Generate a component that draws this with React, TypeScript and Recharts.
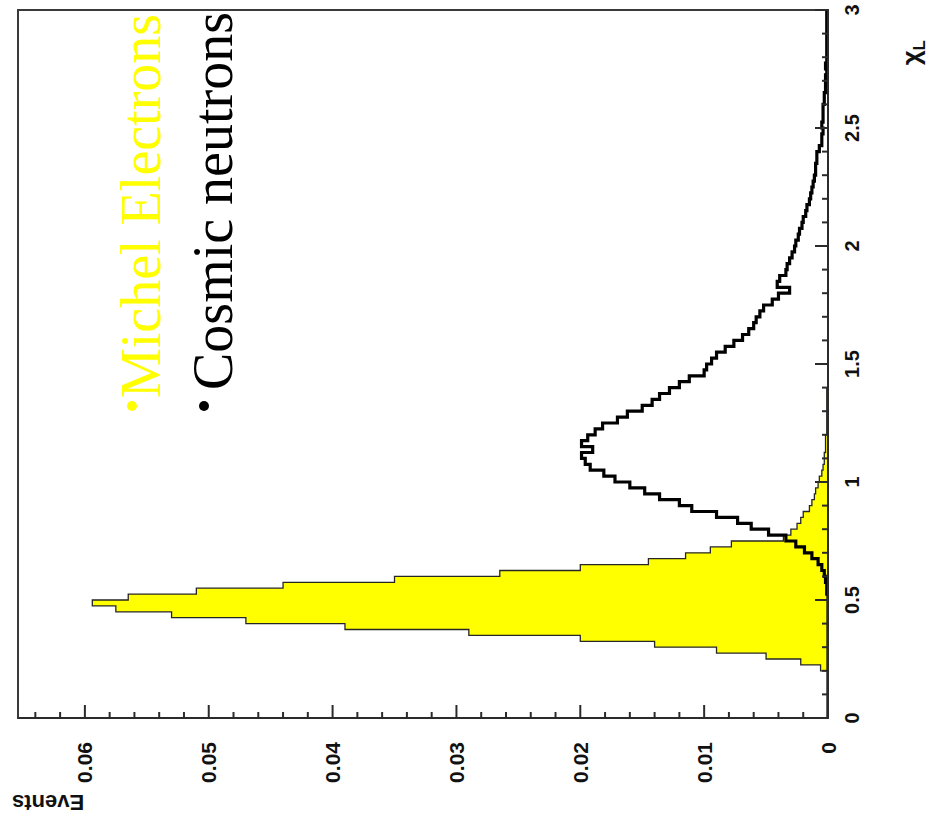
import { ComposedChart, Area, Line, XAxis, YAxis, Legend, Customized } from "recharts";

// histogram bin edges in chi_L (0.025 wide bins, last entry closes the last bin)
const chiEdges = [
  0, 0.025, 0.05, 0.075, 0.1, 0.125, 0.15, 0.175, 0.2, 0.225,
  0.25, 0.275, 0.3, 0.325, 0.35, 0.375, 0.4, 0.425, 0.45, 0.475,
  0.5, 0.525, 0.55, 0.575, 0.6, 0.625, 0.65, 0.675, 0.7, 0.725,
  0.75, 0.775, 0.8, 0.825, 0.85, 0.875, 0.9, 0.925, 0.95, 0.975,
  1, 1.025, 1.05, 1.075, 1.1, 1.125, 1.15, 1.175, 1.2, 1.225,
  1.25, 1.275, 1.3, 1.325, 1.35, 1.375, 1.4, 1.425, 1.45, 1.475,
  1.5, 1.525, 1.55, 1.575, 1.6, 1.625, 1.65, 1.675, 1.7, 1.725,
  1.75, 1.775, 1.8, 1.825, 1.85, 1.875, 1.9, 1.925, 1.95, 1.975,
  2, 2.025, 2.05, 2.075, 2.1, 2.125, 2.15, 2.175, 2.2, 2.225,
  2.25, 2.275, 2.3, 2.325, 2.35, 2.375, 2.4, 2.425, 2.45, 2.475,
  2.5, 2.525, 2.55, 2.575, 2.6, 2.625, 2.65, 2.675, 2.7, 2.725,
  2.75, 2.775, 2.8, 2.825, 2.85, 2.875, 2.9, 2.925, 2.95, 2.975,
  3,
];

const michelElectrons = [
  0, 0, 0, 0, 0, 0, 0, 0, 0.0006, 0.0022,
  0.005, 0.009, 0.014, 0.02, 0.029, 0.039, 0.047, 0.053, 0.0575, 0.0594,
  0.0565, 0.051, 0.044, 0.035, 0.0265, 0.02, 0.0145, 0.0115, 0.0095, 0.0078,
  0.0036, 0.003, 0.0025, 0.0022, 0.002, 0.0015, 0.0013, 0.0011, 0.001, 0.0008,
  0.0007, 0.0005, 0.0004, 0.0003, 0.0003, 0.0002, 0.0002, 0.0002, 0.0001, 0.0001,
  0.0001, 0.0001, 0.0001, 0.0001, 0.0001, 0.0001, 0, 0, 0, 0,
  0, 0, 0, 0, 0, 0, 0, 0, 0, 0,
  0, 0, 0, 0, 0, 0, 0, 0, 0, 0,
  0, 0, 0, 0, 0, 0, 0, 0, 0, 0,
  0, 0, 0, 0, 0, 0, 0, 0, 0, 0,
  0, 0, 0, 0, 0, 0, 0, 0, 0, 0,
  0, 0, 0, 0, 0, 0, 0, 0, 0, 0,
];

const cosmicNeutrons = [
  0, 0, 0, 0, 0, 0, 0, 0, 0, 0,
  0, 0, 0, 0, 0, 0, 0, 0, 0, 0,
  0, 0.0001, 0.0001, 0.0002, 0.0003, 0.0005, 0.0008, 0.0013, 0.0019, 0.0026,
  0.0034, 0.0048, 0.0062, 0.0073, 0.009, 0.011, 0.012, 0.0136, 0.0148, 0.016,
  0.0172, 0.0181, 0.0192, 0.0196, 0.0199, 0.019, 0.0199, 0.0194, 0.0188, 0.0182,
  0.017, 0.0162, 0.015, 0.0142, 0.0136, 0.0128, 0.012, 0.0112, 0.01, 0.0098,
  0.0094, 0.009, 0.0083, 0.0076, 0.0069, 0.0064, 0.006, 0.0058, 0.0055, 0.0052,
  0.0045, 0.004, 0.0031, 0.0041, 0.0039, 0.0034, 0.0033, 0.0031, 0.0029, 0.0027,
  0.0026, 0.0024, 0.0023, 0.0021, 0.002, 0.0018, 0.0017, 0.0015, 0.0014, 0.0013,
  0.0012, 0.0011, 0.001, 0.001, 0.0009, 0.0009, 0.0007, 0.0005, 0.0005, 0.0004,
  0.0005, 0.0004, 0.0004, 0.0004, 0.0003, 0.0003, 0.0002, 0.0002, 0.0002, 0.0001,
  0.0002, 0.0001, 0.0001, 0.0001, 0.0001, 0.0001, 0.0001, 0.0001, 0.0001, 0.0001,
];

// chi axis ticks: major every 0.5, minor every 0.1
const chiTicks = [
  0, 0.1, 0.2, 0.3, 0.4, 0.5, 0.6, 0.7, 0.8, 0.9,
  1, 1.1, 1.2, 1.3, 1.4, 1.5, 1.6, 1.7, 1.8, 1.9,
  2, 2.1, 2.2, 2.3, 2.4, 2.5, 2.6, 2.7, 2.8, 2.9, 3,
];
const chiTickLabels = ["0", "0.5", "1", "1.5", "2", "2.5", "3"];

// events axis ticks: major every 0.01, minor every 0.002
const eventsTicks = [
  0, 0.002, 0.004, 0.006, 0.008, 0.01, 0.012, 0.014, 0.016, 0.018,
  0.02, 0.022, 0.024, 0.026, 0.028, 0.03, 0.032, 0.034, 0.036, 0.038,
  0.04, 0.042, 0.044, 0.046, 0.048, 0.05, 0.052, 0.054, 0.056, 0.058,
  0.06, 0.062, 0.064,
];
const eventsTickLabels = ["0", "0.01", "0.02", "0.03", "0.04", "0.05", "0.06"];

const seriesNames = { michel: "Michel Electrons", neutron: "Cosmic neutrons" };
const seriesColors = { michel: "#ffff00", neutron: "#000000" };

const data = chiEdges.map((chi, i) => ({
  chi,
  michel: michelElectrons[Math.min(i, michelElectrons.length - 1)],
  neutron: cosmicNeutrons[Math.min(i, cosmicNeutrons.length - 1)],
}));

const W = 829;
const H = 929;
const PLOT = { left: 111, top: 18, right: 819, bottom: 828 };
const SANS = "'Liberation Sans', Arial, Helvetica, sans-serif";
const SERIF = "'Liberation Serif', 'Times New Roman', serif";
const TICK_COLOR = "#2b2b2b";

function ChiTick(props: any) {
  const { x, y, payload } = props;
  const v = payload.value;
  const major = Math.abs(v * 2 - Math.round(v * 2)) < 1e-6;
  return (
    <g>
      <line x1={x} x2={x} y1={y} y2={y - (major ? 13 : 6)} stroke={TICK_COLOR} strokeWidth={2} />
      {major && (
        <text x={x} y={y + 31} textAnchor="middle" fontFamily={SANS} fontWeight="bold" fontSize={20} fill="#111">
          {chiTickLabels[Math.round(v * 2)]}
        </text>
      )}
    </g>
  );
}

function EventsTick(props: any) {
  const { x, y, payload } = props;
  const v = payload.value;
  const major = Math.abs(v * 100 - Math.round(v * 100)) < 1e-6;
  return (
    <g>
      <line x1={x} x2={x + (major ? 13 : 6)} y1={y} y2={y} stroke={TICK_COLOR} strokeWidth={2} />
      {major && (
        <text x={x - 24} y={y} dy="0.36em" textAnchor="end" fontFamily={SANS} fontWeight="bold" fontSize={21} fill="#111">
          {eventsTickLabels[Math.round(v * 100)]}
        </text>
      )}
    </g>
  );
}

function Frame() {
  return (
    <g>
      <rect
        x={PLOT.left}
        y={PLOT.top}
        width={PLOT.right - PLOT.left}
        height={PLOT.bottom - PLOT.top}
        fill="none"
        stroke="#3a3a3a"
        strokeWidth={2}
      />
      <text x={34} y={12} transform="rotate(-90 34 12)" textAnchor="end" fontFamily={SANS} fontWeight="bold" fontSize={22} fill="#111">
        Events
      </text>
      <text x={789} y={920} textAnchor="end" fontFamily={SANS} fontWeight="bold" fontSize={26} fill="#111">
        χ<tspan fontSize={17} dy={5}>L</tspan>
      </text>
    </g>
  );
}

function LegendBox(props: any) {
  const { payload } = props;
  const rows = [
    { key: "michel", dotY: 132, textY: 160, textX: 431 },
    { key: "neutron", dotY: 204, textY: 232, textX: 439 },
  ];
  return (
    <svg width={W} height={260} style={{ display: "block" }}>
      {rows.map((r) => {
        const item = (payload || []).find((p: any) => p.dataKey === r.key);
        const color = (seriesColors as any)[r.key];
        return (
          <g key={r.key}>
            <circle cx={423} cy={r.dotY} r={5} fill={color} />
            <text x={r.textX} y={r.textY} fontFamily={SERIF} fontSize={56} fill={color}>
              {item ? item.value : (seriesNames as any)[r.key]}
            </text>
          </g>
        );
      })}
    </svg>
  );
}

export default function App() {
  return (
    <div style={{ position: "absolute", left: 0, top: 0, width: 929, height: 829, overflow: "hidden", background: "#ffffff" }}>
      <div
        style={{
          position: "absolute",
          left: 0,
          top: 0,
          width: W,
          height: H,
          transformOrigin: "0 0",
          transform: "translate(0px, 829px) rotate(-90deg)",
        }}
      >
        <ComposedChart width={W} height={H} data={data} margin={{ top: 18, right: 10, bottom: 61, left: 51 }}>
          <XAxis
            dataKey="chi"
            type="number"
            domain={[0, 3]}
            ticks={chiTicks}
            interval={0}
            height={40}
            tickSize={0}
            tickMargin={0}
            tickLine={false}
            tick={<ChiTick />}
            axisLine={{ stroke: TICK_COLOR, strokeWidth: 2 }}
            allowDataOverflow
          />
          <YAxis
            type="number"
            domain={[0, 0.0654]}
            ticks={eventsTicks}
            interval={0}
            width={60}
            tickSize={0}
            tickMargin={0}
            tickLine={false}
            tick={<EventsTick />}
            axisLine={{ stroke: TICK_COLOR, strokeWidth: 2 }}
            allowDataOverflow
          />
          <Area
            dataKey="michel"
            name={seriesNames.michel}
            type="stepAfter"
            fill={seriesColors.michel}
            fillOpacity={1}
            stroke="#262626"
            strokeWidth={1.3}
            dot={false}
            activeDot={false}
            isAnimationActive={false}
          />
          <Line
            dataKey="neutron"
            name={seriesNames.neutron}
            type="stepAfter"
            stroke={seriesColors.neutron}
            strokeWidth={3.2}
            dot={false}
            activeDot={false}
            isAnimationActive={false}
          />
          <Customized component={Frame} />
          <Legend
            layout="horizontal"
            verticalAlign="middle"
            align="center"
            wrapperStyle={{ position: "absolute", top: 0, left: 0, width: W, height: 260 }}
            content={<LegendBox />}
          />
        </ComposedChart>
      </div>
    </div>
  );
}
